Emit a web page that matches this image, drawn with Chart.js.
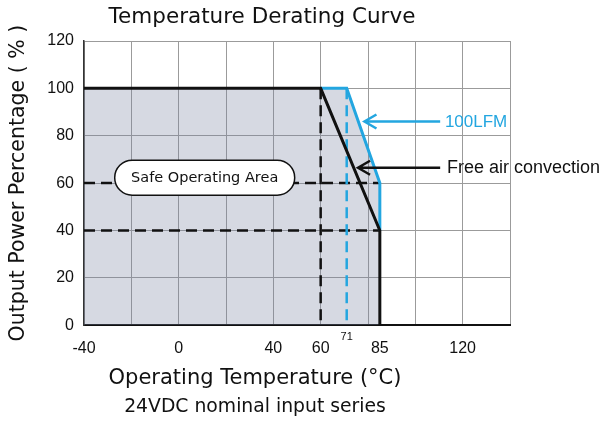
<!DOCTYPE html>
<html>
<head>
<meta charset="utf-8">
<script src="https://cdn.jsdelivr.net/npm/chart.js@4.4.0/dist/chart.umd.min.js"></script>
<style>
    html, body { margin: 0; padding: 0; background: #fff; }
    #wrap { width: 606px; height: 423px; }
</style>
</head>
<body>
<div id="wrap"><canvas id="derating" width="606" height="423"></canvas></div>
<script>
// grid every 20 degC, labelled temperatures
var gridTemps = [-40, -20, 0, 20, 40, 60, 80, 100, 120, 140];
var labelTemps = [-40, 0, 40, 60, 71, 85, 120];
var powerTicks = [0, 20, 40, 60, 80, 100, 120];

// derating curves (temperature degC / output power %)
var freeAirTemp = [-40, 60, 85, 85];
var freeAirPower = [100, 100, 40, 0];
var lfmTemp = [60, 71, 85, 85];
var lfmPower = [100, 100, 60, 40];
var safeAreaTemp = [-40, 71, 85, 85];
var safeAreaPower = [100, 100, 60, 0];

// dashed guide lines
var guide60Temp = [60, 60];
var guide60Power = [100, 0];
var guide71Temp = [71, 71];
var guide71Power = [100, 0];
var guidePow60Temp = [-40, 85];
var guidePow60Power = [60, 60];
var guidePow40Temp = [-40, 85];
var guidePow40Power = [40, 40];

var BLUE = '#23a6e0';

function pts(xs, ys) {
    return xs.map(function (x, i) { return {x: x, y: ys[i]}; });
}

function arrow(ctx, x1, x2, y, color) {
    ctx.save();
    ctx.strokeStyle = color;
    ctx.lineWidth = 2.5;
    ctx.beginPath();
    ctx.moveTo(x2, y);
    ctx.lineTo(x1, y);
    ctx.moveTo(x1 + 12, y - 7);
    ctx.lineTo(x1, y);
    ctx.lineTo(x1 + 12, y + 7);
    ctx.stroke();
    ctx.restore();
}

var notesPlugin = {
    id: 'notes',
    afterDatasetsDraw: function (chart) {
        var ctx = chart.ctx;
        var xs = chart.scales.x, ys = chart.scales.y;

        // safe operating area pill
        var cx = xs.getPixelForValue(11), cy = ys.getPixelForValue(62.3);
        var w = 180, h = 35, r = h / 2;
        ctx.save();
        ctx.beginPath();
        ctx.moveTo(cx - w / 2 + r, cy - r);
        ctx.lineTo(cx + w / 2 - r, cy - r);
        ctx.arc(cx + w / 2 - r, cy, r, -Math.PI / 2, Math.PI / 2);
        ctx.lineTo(cx - w / 2 + r, cy + r);
        ctx.arc(cx - w / 2 + r, cy, r, Math.PI / 2, Math.PI * 1.5);
        ctx.closePath();
        ctx.fillStyle = '#fff';
        ctx.fill();
        ctx.lineWidth = 1.5;
        ctx.strokeStyle = '#111';
        ctx.stroke();
        ctx.fillStyle = '#111';
        ctx.font = '14.5px "DejaVu Sans"';
        ctx.textAlign = 'center';
        ctx.textBaseline = 'middle';
        ctx.fillText('Safe Operating Area', cx, cy + 1);

        // callouts
        var tail = xs.getPixelForValue(110.5);
        var yLfm = ys.getPixelForValue(86);
        var yFree = ys.getPixelForValue(66.5);
        arrow(ctx, xs.getPixelForValue(78.5), tail, yLfm, BLUE);
        arrow(ctx, xs.getPixelForValue(75.8), tail, yFree, '#111');
        ctx.textAlign = 'left';
        ctx.font = '17px "Liberation Sans"';
        ctx.fillStyle = BLUE;
        ctx.fillText('100LFM', xs.getPixelForValue(112.5), yLfm + 1);
        ctx.fillStyle = '#111';
        ctx.font = '18px "Liberation Sans"';
        ctx.fillText('Free air convection', xs.getPixelForValue(113.4), yFree);

        // main title
        ctx.font = '21.5px "DejaVu Sans"';
        ctx.textAlign = 'center';
        ctx.fillText('Temperature Derating Curve', 262, 17);
        ctx.restore();
    }
};

var lineBase = {pointRadius: 0, fill: false, tension: 0};

new Chart(document.getElementById('derating').getContext('2d'), {
    type: 'line',
    data: {
        datasets: [
            Object.assign({}, lineBase, {
                label: 'Free air convection', data: pts(freeAirTemp, freeAirPower),
                borderColor: '#111', borderWidth: 3, order: 1
            }),
            Object.assign({}, lineBase, {
                label: '100LFM', data: pts(lfmTemp, lfmPower),
                borderColor: BLUE, borderWidth: 3, order: 2
            }),
            Object.assign({}, lineBase, {
                data: pts(guide60Temp, guide60Power), borderColor: '#111',
                borderWidth: 2.5, borderDash: [11, 6], order: 4
            }),
            Object.assign({}, lineBase, {
                data: pts(guide71Temp, guide71Power), borderColor: BLUE,
                borderWidth: 2.5, borderDash: [11, 6], order: 4
            }),
            Object.assign({}, lineBase, {
                data: pts(guidePow60Temp, guidePow60Power), borderColor: '#111',
                borderWidth: 2.5, borderDash: [11, 6], order: 4
            }),
            Object.assign({}, lineBase, {
                data: pts(guidePow40Temp, guidePow40Power), borderColor: '#111',
                borderWidth: 2.5, borderDash: [11, 6], order: 4
            }),
            Object.assign({}, lineBase, {
                label: 'Safe Operating Area', data: pts(safeAreaTemp, safeAreaPower),
                borderWidth: 0, borderColor: 'rgba(0,0,0,0)',
                backgroundColor: 'rgba(118,128,158,0.3)', fill: 'origin', order: 9
            })
        ]
    },
    options: {
        responsive: false,
        animation: false,
        layout: {padding: {top: 41, right: 96, left: 0, bottom: 0}},
        plugins: {
            legend: {display: false},
            tooltip: {enabled: false},
            title: {
                display: true, position: 'bottom', weight: 100,
                text: 'Operating Temperature (°C)', color: '#111',
                font: {family: '"DejaVu Sans"', size: 21, weight: 'normal'},
                padding: {top: 5, bottom: 3}
            },
            subtitle: {
                display: true, position: 'bottom', weight: 200,
                text: '24VDC nominal input series', color: '#111',
                font: {family: '"DejaVu Sans"', size: 18.8},
                padding: {top: 1, bottom: 5}
            }
        },
        scales: {
            x: {
                type: 'linear', min: -40, max: 140,
                afterBuildTicks: function (scale) {
                    var vals = gridTemps.concat([71, 85]).sort(function (a, b) { return a - b; });
                    scale.ticks = vals.map(function (v) { return {value: v}; });
                },
                afterFit: function (scale) { scale.height = 36; },
                grid: {
                    drawTicks: false,
                    color: function (c) {
                        return c.tick && gridTemps.indexOf(c.tick.value) >= 0 ? '#9b9b9b' : 'rgba(0,0,0,0)';
                    }
                },
                border: {color: '#111', width: 2},
                ticks: {
                    autoSkip: false, maxRotation: 0, padding: 11, color: '#111',
                    callback: function (v) { return labelTemps.indexOf(v) >= 0 ? String(v) : ''; },
                    font: function (c) {
                        if (c.tick && c.tick.value === 71) {
                            return {family: '"Liberation Sans"', size: 11, lineHeight: 0.1};
                        }
                        return {family: '"Liberation Sans"', size: 16, lineHeight: 1.6};
                    }
                }
            },
            y: {
                min: 0, max: 120,
                afterBuildTicks: function (scale) {
                    scale.ticks = powerTicks.map(function (v) { return {value: v}; });
                },
                afterFit: function (scale) { scale.width = 84; },
                grid: {drawTicks: false, color: '#9b9b9b'},
                border: {color: '#333', width: 1.5},
                ticks: {
                    padding: 10, color: '#111',
                    font: {family: '"Liberation Sans"', size: 16}
                },
                title: {
                    display: true, text: 'Output Power Percentage ( % )', color: '#111',
                    font: {family: '"DejaVu Sans"', size: 20.5},
                    padding: {top: 6, bottom: 0}
                }
            }
        }
    },
    plugins: [notesPlugin]
});
</script>
</body>
</html>
